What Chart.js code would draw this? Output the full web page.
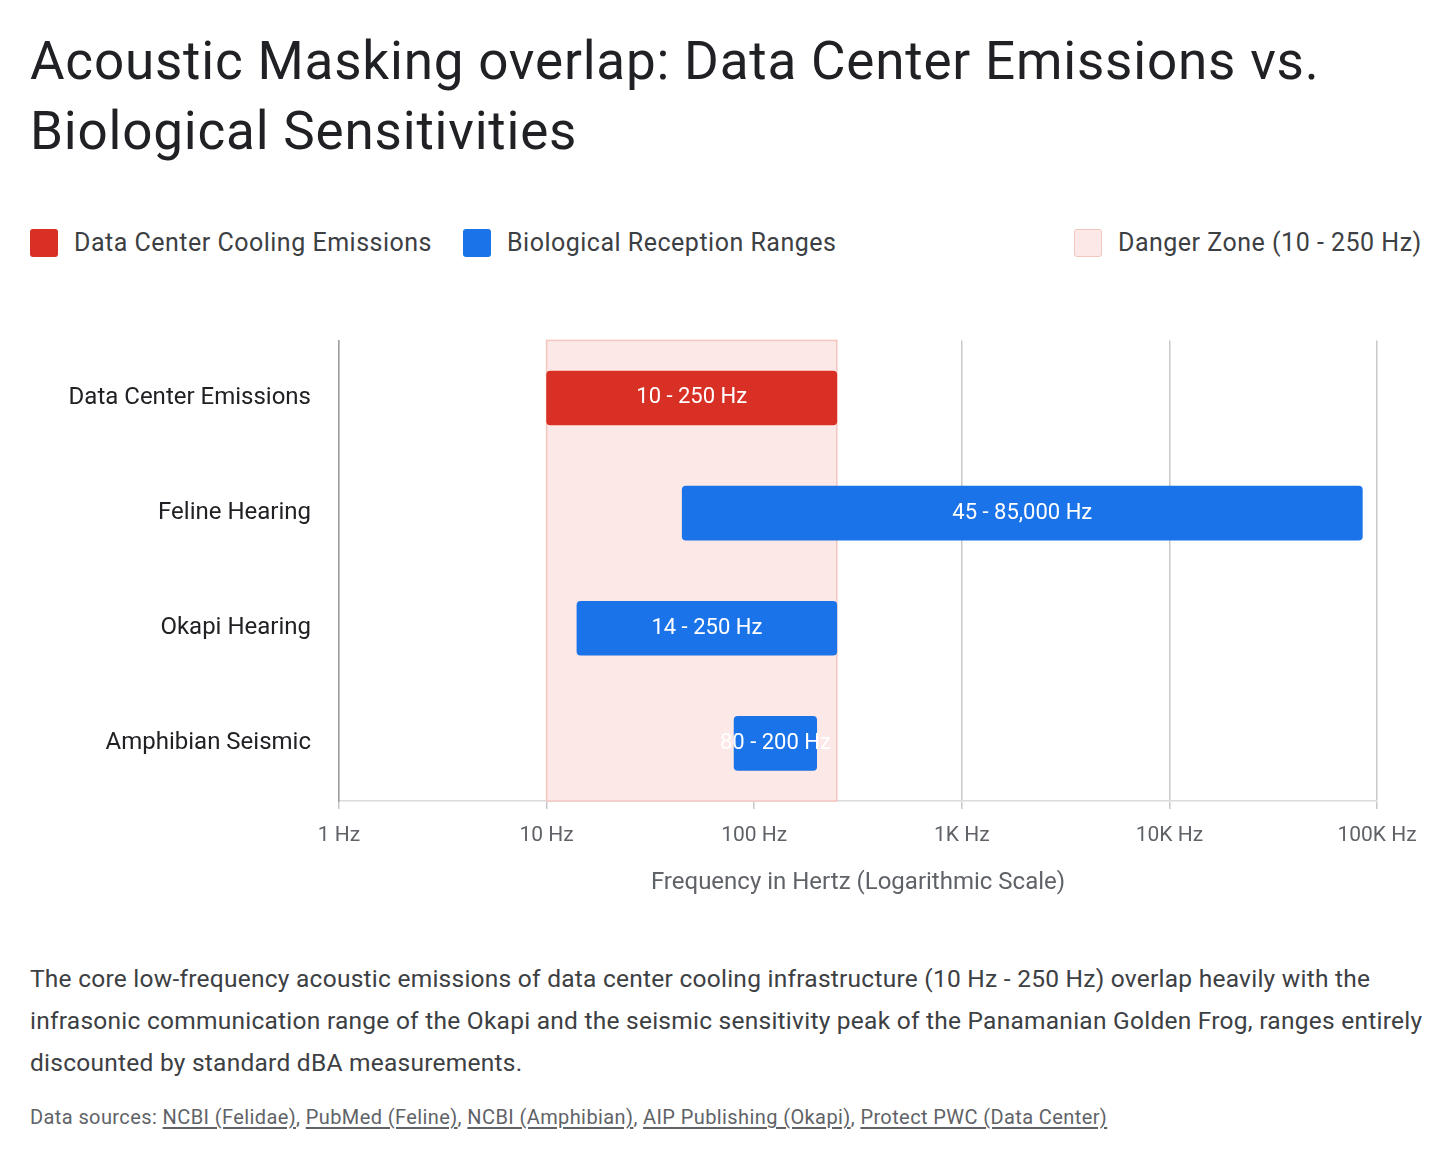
<!DOCTYPE html>
<html>
<head>
<meta charset="utf-8">
<script src="https://cdn.jsdelivr.net/npm/chart.js@4"></script>
<style>
  body { margin: 0; background: #fff; font-family: Roboto, "Noto Sans", sans-serif; width: 1456px; height: 1163px; position: relative; overflow: hidden; }
  h1 { position: absolute; left: 30px; top: 26px; margin: 0; font-weight: 400; font-size: 53px; line-height: 70px; color: #202124; letter-spacing: 0.8px; }
  .leg { position: absolute; top: 228px; font-size: 25px; color: #3c4043; display: flex; align-items: center; letter-spacing: 0.5px; }
  .sw { width: 28px; height: 28px; border-radius: 3px; margin-right: 16px; }
  #wrap { position: absolute; left: 0; top: 306px; width: 1456px; height: 595px; }
  .cap { position: absolute; left: 30px; top: 958px; width: 1410px; font-size: 24.5px; line-height: 42px; color: #3c4043; letter-spacing: 0.25px; }
  .src { position: absolute; left: 30px; top: 1105px; font-size: 20px; color: #5f6368; letter-spacing: 0.4px; }
  .src u { text-underline-offset: 3px; }
</style>
</head>
<body>
<h1>Acoustic Masking overlap: Data Center Emissions vs.<br>Biological Sensitivities</h1>
<div class="leg" style="left:30px"><div class="sw" style="background:#d93025"></div>Data Center Cooling Emissions</div>
<div class="leg" style="left:463px"><div class="sw" style="background:#1a73e8"></div>Biological Reception Ranges</div>
<div class="leg" style="left:1074px"><div class="sw" style="background:#fce8e6;border:1px solid #f5c6c0;width:26px;height:26px"></div>Danger Zone (10 - 250 Hz)</div>
<div id="wrap"><canvas id="c"></canvas></div>
<div class="cap">The core low-frequency acoustic emissions of data center cooling infrastructure (10 Hz - 250 Hz) overlap heavily with the infrasonic communication range of the Okapi and the seismic sensitivity peak of the Panamanian Golden Frog, ranges entirely discounted by standard dBA measurements.</div>
<div class="src">Data sources: <u>NCBI (Felidae)</u>, <u>PubMed (Feline)</u>, <u>NCBI (Amphibian)</u>, <u>AIP Publishing (Okapi)</u>, <u>Protect PWC (Data Center)</u></div>
<script>
const categories = ["Data Center Emissions", "Feline Hearing", "Okapi Hearing", "Amphibian Seismic"];
const lows = [10, 45, 14, 80];
const highs = [250, 85000, 250, 200];
const barLabels = ["10 - 250 Hz", "45 - 85,000 Hz", "14 - 250 Hz", "80 - 200 Hz"];
const barColors = ["#d93025", "#1a73e8", "#1a73e8", "#1a73e8"];
const tickValues = [1, 10, 100, 1000, 10000, 100000];
const tickLabels = ["1 Hz", "10 Hz", "100 Hz", "1K Hz", "10K Hz", "100K Hz"];
const dangerZone = [10, 250];

const dangerPlugin = {
  id: "danger",
  beforeDatasetsDraw(chart) {
    const { ctx, chartArea, scales } = chart;
    const x0 = scales.x.getPixelForValue(dangerZone[0]);
    const x1 = scales.x.getPixelForValue(dangerZone[1]);
    ctx.save();
    ctx.fillStyle = "#fce8e6";
    ctx.fillRect(x0, chartArea.top, x1 - x0, chartArea.bottom - chartArea.top);
    ctx.strokeStyle = "#f5c6c0";
    ctx.lineWidth = 1.5;
    ctx.strokeRect(x0, chartArea.top, x1 - x0, chartArea.bottom - chartArea.top);
    ctx.restore();
  },
  afterDatasetsDraw(chart) {
    const { ctx } = chart;
    const meta = chart.getDatasetMeta(0);
    ctx.save();
    ctx.fillStyle = "#fff";
    ctx.font = "22px Roboto, sans-serif";
    ctx.textAlign = "center";
    ctx.textBaseline = "middle";
    meta.data.forEach((bar, i) => {
      const cx = (bar.x + bar.base) / 2;
      ctx.fillText(barLabels[i], cx, bar.y);
    });
    ctx.restore();
  }
};

new Chart(document.getElementById("c"), {
  type: "bar",
  data: {
    labels: categories,
    datasets: [{
      data: lows.map((l, i) => [l, highs[i]]),
      backgroundColor: barColors,
      borderRadius: 4,
      borderSkipped: false,
      barThickness: 54,
    }],
  },
  options: {
    indexAxis: "y",
    responsive: true,
    maintainAspectRatio: false,
    animation: false,
    layout: { padding: { left: 0, right: 79, top: 0, bottom: 0 } },
    plugins: { legend: { display: false }, tooltip: { enabled: false } },
    scales: {
      x: {
        type: "logarithmic",
        min: 1,
        max: 100000,
        afterBuildTicks: (s) => { s.ticks = tickValues.map((v) => ({ value: v })); },
        afterFit: (s) => { s.height = 100; },
        ticks: {
          callback: (v) => tickLabels[tickValues.indexOf(v)] || "",
          color: "#5f6368",
          font: { size: 21, family: "Roboto" },
          maxRotation: 0,
          padding: 14,
        },
        grid: { color: "#c8c8c8", tickLength: 8, lineWidth: 1.5 },
        border: { color: "#dadce0", width: 1.5 },
        title: { display: true, text: "Frequency in Hertz (Logarithmic Scale)", color: "#5f6368", font: { size: 24, family: "Roboto" }, padding: { top: 2 } },
      },
      y: {
        afterFit: (s) => { s.width = 339; },
        grid: { display: false },
        border: { color: "#9e9e9e", width: 1.5 },
        ticks: { color: "#202124", font: { size: 24, family: "Roboto" }, padding: 20 },
      },
    },
  },
  plugins: [dangerPlugin],
});
</script>
</body>
</html>
